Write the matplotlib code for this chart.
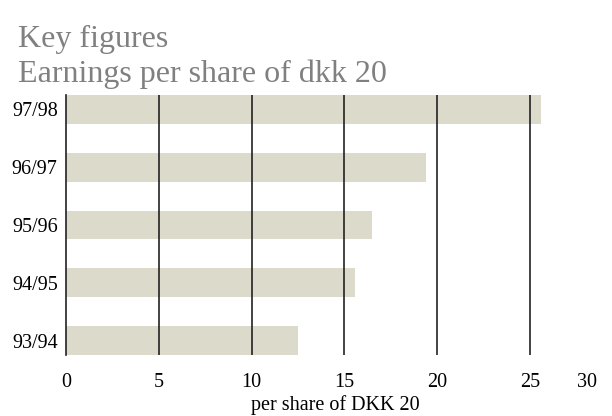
import matplotlib.pyplot as plt

# data
years = ["93/94", "94/95", "95/96", "96/97", "97/98"]
earnings = [12.5, 15.6, 16.5, 19.4, 25.6]
grid_values = [5, 10, 15, 20, 25]
tick_values = [0, 5, 10, 15, 20, 25, 28.1]
tick_labels = ["0", "5", "10", "15", "20", "25", "30"]

plt.rcParams['font.family'] = ['Liberation Serif', 'DejaVu Serif']

fig = plt.figure(figsize=(6.12, 4.16), dpi=100)
ax = fig.add_axes([66 / 612, 61 / 416, 538 / 612, 260 / 416])

ax.barh(range(len(years)), earnings, height=0.5, color='#dcdbcb', zorder=1)
for g in grid_values:
    ax.axvline(g, color='#222222', linewidth=1.2, zorder=2)

ax.set_xlim(0, 29)
ax.set_ylim(-0.25, len(years) - 0.75)
ax.set_yticks(range(len(years)))
ax.set_yticklabels(years, fontsize=14.5)
ax.set_xticks(tick_values)
ax.set_xticklabels(tick_labels, fontsize=14.5)
ax.tick_params(axis='both', length=0)
ax.tick_params(axis='x', pad=13)
ax.tick_params(axis='y', pad=6)

for side in ['top', 'right', 'bottom']:
    ax.spines[side].set_visible(False)
ax.spines['left'].set_color('#222222')
ax.spines['left'].set_linewidth(1.2)

ax.set_xlabel("per share of DKK 20", fontsize=14.5, labelpad=2)

fig.text(18 / 612, 1 - 47 / 416, "Key figures", fontsize=23, color='#808080', va='baseline')
fig.text(18 / 612, 1 - 82 / 416, "Earnings per share of dkk 20", fontsize=23, color='#808080', va='baseline')

fig.savefig("out.png", dpi=100)
